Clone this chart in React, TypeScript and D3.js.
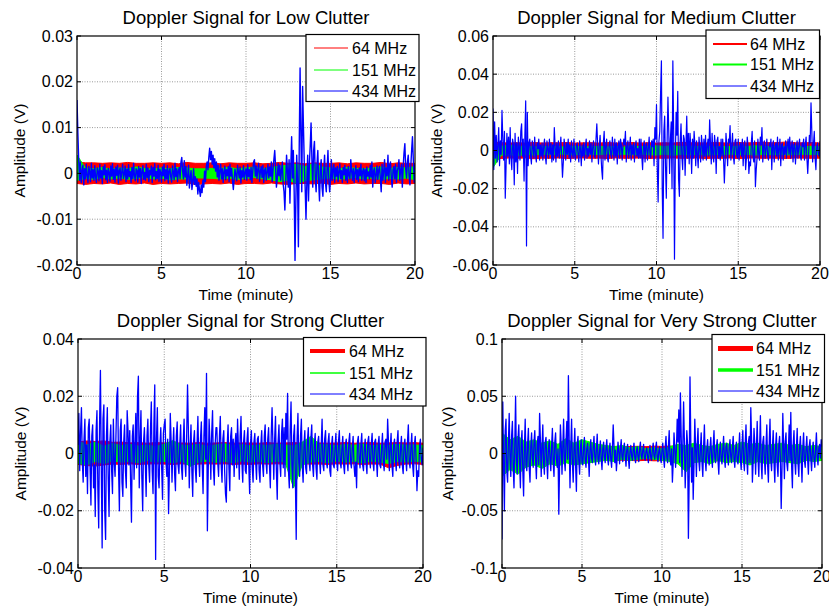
import React, { useRef, useEffect } from "react";
import * as d3 from "d3";

// all amplitudes are in mV, sampled evenly over 0..20 minutes
const FREQS = ["64 MHz", "151 MHz", "434 MHz"];
const X_TICKS = [0, 5, 10, 15, 20];

// ---- Low clutter ----
const low64Hi = [2.5, 2.3, 2.3, 2.2, 2.3, 2.2, 2.4, 2.2, 2.2, 2.3, 2.2, 2.3, 2.1, 2.4, 2.2, 2.2, 2.3, 2.1, 2.3, 2.2, 2.2, 2.3, 2.1, 2.2, 2.4, 2.2, 2.3, 2.1, 2.3, 2.2, 2.2, 2.3, 2.1, 2.3, 2.2, 2.2, 2.4, 2.1, 2.3, 2.2, 2.2];
const low64Lo = [-2.2, -2.4, -2.2, -2.3, -2.1, -2.4, -2.2, -2.3, -2.1, -2.4, -2.2, -2.3, -2.2, -2.1, -2.4, -2.3, -2.2, -2.3, -2.1, -2.4, -2.2, -2.2, -2.3, -2.1, -2.3, -2.4, -2.2, -2.2, -2.3, -2.1, -2.4, -2.2, -2.3, -2.1, -2.3, -2.2, -2.2, -2.4, -2.1, -2.3, -2.2];
const low151Hi = [4.0, 1.2, 1.0, 1.3, 0.9, 1.2, 1.0, 1.4, 1.1, 0.9, 1.2, 1.0, 1.3, 1.2, 1.0, 1.0, 1.1, 1.1, 1.3, 1.0, 1.2, 1.4, 1.0, 1.3, 1.6, 1.8, 2.0, 1.5, 2.2, 1.4, 1.2, 1.0, 1.3, 1.1, 1.0, 1.2, 1.4, 1.1, 1.3, 1.2, 1.5];
const low151Lo = [-1.5, -1.1, -1.3, -0.9, -1.2, -1.0, -1.3, -1.1, -0.9, -1.2, -1.0, -1.4, -1.2, -1.2, -1.0, -1.0, -1.1, -1.2, -1.0, -1.3, -1.1, -0.9, -1.2, -1.4, -1.8, -1.5, -2.2, -1.6, -1.4, -1.2, -1.0, -1.3, -1.1, -0.9, -1.2, -1.0, -1.3, -1.1, -1.2, -1.0, -1.4];
const low434 = [
  16,
  9, 3, -1.5, 2.5, -2, 0.5, 1.8, -2.5, 1, -1.2, 2, -0.5, -2, 1.5, 0.3, -1.8, 2.2, -1, 0.8, -1.5,
  1.7, -0.8, -2, 1.2, 0.4, -1.6, 2, -1, 0.6, -2.2, 1.5, -0.3, 1.9, -1.4, 0.7, -2, 1.1, 0.2, -1.7, 1.6,
  -0.6, 2.1, -1.3, 0.9, -1.9, 1.4, -0.4, 1.8, -2.1, 0.6, 1.2, -1.5, 0.3, 2, -1.1, -0.2, 1.6, -1.8, 0.9, -1.2,
  1.9, -0.7, 0.4, -2, 1.3, -1.1, 2.2, -0.5, -1.6, 1, 0.6, -1.9, 1.5, -0.8, 1.1, -2.2, 0.5, 1.7, -1.3, 0.2,
  -1.5, 2, -0.9, 1.2, -1.8, 0.7, -0.3, 1.6, -2, 1.3, -0.6, 2.1, -1.4, 0.4, -1.1, 1.8, -1.7, 0.9, 0.2, -1.9,
  1.4, -0.5, 2, -1.6, 0.8, -1.2, 1.7, -2.1, 0.5, 1.1, -0.8, -1.9, 1.6, 0.3, -1.4, 2.2, -0.7, 1, -1.8, 0.6,
  1.3, -1.1, 2.4, 3.5, 0.5, -1.2, 2.8, -0.8, 1.5, -2.6, -0.5, 1.8, -3.2, -1, 0.6, -3.5, -1.8, 1, -2.4, -0.7,
  -2.8, -1.2, -4.5, -2, -3.6, -5, -2.5, -4.2, -1.5, -3, 0.5, -1.8, 1.5, 2.5, 0.8, 3.5, 5.5, 3, 4.8, 2,
  4, 1.2, 3.2, 0.5, 2.5, -0.8, 1.8, -1.5, 0.6, 2, -1.2, 1, -2, 0.4, 1.6, -1.4, 0.8, -0.5, 1.5, -1.8,
  2, -0.6, 1.1, -1.5, -3.5, -1.2, 0.9, -0.4, -1.6, 1.8, 0.3, -1, 1.4, -2.1, 0.6, -0.8, 1.7, -1.3, 0.2, 1,
  -1.5, 1.9, -0.7, 0.8, -1.4, 1.3, -2, 0.5, 2.5, 3, -0.6, 1.6, -1.1, 0.9, 2.2, -1.7, 0.4, 1.5, -0.9, 1.8,
  -2, 0.7, 1.2, -1.5, 0.3, 2, -1, 1.4, -0.6, 2.5, -1.8, 0.8, 3, 5, 1.5, -3, -1.2, 2.2, -0.5, 1.8,
  -1.5, 0.6, 2.5, -2.4, -4, -8, -2, 4, 0.5, -3, 3, -6.5, 1, 8, -1, 5, -4, -19, -6, 4,
  -2, -16, 6, 23, 8, -4, 19, 10, 2, -3, -10, -2, 4, -6, 2, 6, 11, 3, -3, 5,
  7, -1, -4, 2, 5, -2, -6, 1, 3, -3, -5, 0.5, 4, -2, -4, 1, 5, -1.5, -4, -1.5,
  3, -1.5, 0.8, 2, -2, 1.2, -0.6, 1.5, -1.8, 0.4, 2.1, -1.1, 0.6, -2, 1.3, -0.3, 1.8, -1.5, 0.9, -2,
  1.5, -0.4, -1.2, 3, 0.6, -1.5, 1, -2, 0.3, 1.7, -1.3, 0.8, -1.8, 1.2, -0.5, 2, -1.5, 0.4, 1.1, -1.6,
  0.9, -2, 1.4, -0.6, 0.3, -1.2, 1.8, -0.8, 2.5, -3, 0.5, 1.2, -2, -0.4, 1.6, -1.3, 0.7, 1.5, -1.1, -4,
  2, -1.5, 0.6, 3, -2, 1.2, -0.5, 4, -1.5, 1.8, 2.5, -1, -3, 0.8, 1.5, -1.2, 2, -2, 0.5, 1.3,
  3, -1.5, 0.8, 2, -3, 1.5, 4.5, 6.5, 1, -1, 2.5, 4, -0.5, -2.5, 1.5, 5, 8, 3, -2, 2,
];

// ---- Medium clutter ----
const med64Hi = [4.4, 4.1, 3.9, 4.1, 3.9, 4.2, 3.9, 4.1, 4.0, 4.2, 3.9, 4.0, 4.1, 3.9, 4.2, 3.9, 4.0, 4.2, 3.9, 4.1, 3.9, 4.1, 3.9, 4.3, 4.0, 4.1, 3.9, 4.2, 4.0, 3.9, 4.2, 4.0, 4.1, 4.4, 4.0, 4.2, 4.5, 4.1, 4.0, 4.2, 3.9];
const med64Lo = [-4.0, -4.2, -3.9, -4.1, -3.9, -4.3, -4.0, -4.1, -3.9, -4.2, -4.0, -3.9, -4.1, -4.0, -4.2, -3.9, -4.1, -4.0, -3.9, -4.2, -4.0, -4.1, -3.9, -4.1, -4.0, -3.9, -4.2, -4.0, -4.1, -3.9, -4.2, -4.0, -3.9, -4.1, -4.0, -4.1, -4.2, -3.9, -4.0, -4.1, -4.0];
const med151Hi = [3.0, 2.2, 2.8, 2.0, 2.4, 1.8, 2.2, 1.9, 2.1, 1.7, 2.3, 1.8, 2.0, 2.2, 1.9, 2.1, 1.8, 2.4, 2.0, 2.2, 2.5, 2.1, 2.6, 2.0, 2.3, 2.1, 2.4, 1.9, 2.2, 2.0, 2.3, 2.1, 2.5, 2.2, 2.0, 2.3, 2.1, 2.4, 2.0, 2.2, 1.9];
const med151Lo = [-9.0, -2.5, -2.2, -2.8, -2.0, -2.4, -1.9, -2.2, -1.8, -2.1, -2.3, -1.9, -2.0, -2.2, -1.8, -2.1, -2.0, -2.3, -1.9, -2.2, -2.4, -2.0, -2.5, -2.1, -2.3, -2.0, -2.4, -2.1, -2.2, -1.9, -2.3, -2.0, -2.4, -2.1, -2.2, -2.0, -2.3, -2.1, -2.0, -2.2, -2.0];
const med434 = [
  22,
  -10, 15, -4, 8, -6, 3, 12, -8, 5, -2, 21, 6, -5, 10, -25, -8, 9, -3, 7, -7,
  12, -4, -10, 6, 3, -18, 9, -6, 4, -12, 7, 2, -5, 10, 14, -3, 6, -16, 8, 26,
  -50, 20, -8, 4, 6, -3, -7, 5, 2, -4, 7, -2, -6, 4, 1, 6, -5, 3, -3, 4,
  -5, 2, 6, -3, -7, 5, 1, -4, 6, -2, 4, -6, 3, -5, 12, 2, -6, 4, -3, 5,
  -4, 1, 7, -3, -14, -6, 6, 2, -5, 4, -2, 6, -4, 3, -6, 5, -1, -4, 6, -3,
  -5, 3, 4, -2, -6, 5, 1, -8, 3, -3, 4, -5, 2, 6, -4, 1, -3, 5, -2, 4,
  -6, 2, 5, -3, -4, 6, 14, 3, -7, 2, 8, -2, -10, -15, 4, 10, -5, 2, 6, -4,
  -6, 3, 5, -2, -4, 7, 1, -5, 6, -3, 4, -7, 2, 5, -4, 6, 3, -5, 2, 6,
  3, 10, -6, 2, 5, -4, 1, 7, -5, 3, -2, 4, -6, 2, 5, -3, 1, -4, 6, -4,
  6, -3, -10, 2, 5, -6, 3, 4, -5, 1, 7, -2, -4, 5, 2, 6, -8, 12, 6, 24,
  -10, -27, 5, 10, 30, 47, -20, -46, 10, 18, -8, -25, 5, 28, 10, -12, 6, 15, -20, 47,
  10, -57, -5, 20, 8, 31, -15, -24, 5, 14, -3, -10, 8, 6, -13, 3, 18, -4, 9, -7,
  9, 2, -12, 6, -4, 10, 3, -8, 5, -2, -9, 7, 1, -6, 8, 3, -5, 6, -3, 8,
  -5, 2, 6, -3, 16, 4, -7, 9, -2, -6, 8, 3, -12, 5, 7, -4, 2, -5, 6, -3,
  6, -4, -17, -5, 9, 2, -8, 6, 4, 13, -5, 2, 9, -3, -7, 5, 6, -2, -4, 6,
  -5, 2, 4, -3, 6, -8, 3, 5, -10, -4, 7, 2, -12, -6, -8, 4, 10, -3, -6, 5,
  -19, -10, -4, 6, -2, -5, 7, 3, 12, -6, 2, 5, -4, 1, 6, -3, -5, 4, 2, 6,
  -10, 3, 5, -6, 2, 4, -3, 7, -5, 1, 6, -8, 3, 4, -5, 2, -2, 5, -4, 3,
  6, -2, 7, -4, 2, 5, -6, 3, 4, -7, 1, 5, -4, 2, 6, -3, -5, 4, 2, 6,
  -5, 3, 7, -4, -12, -3, 8, 4, 25, 10, -6, 3, 10, -4, -10, 2, 4, -2, -3, 5,
];

// ---- Strong clutter ----
const str64Hi = [4.0, 4.4, 4.2, 4.4, 3.9, 4.0, 3.7, 3.8, 3.6, 3.8, 3.7, 3.6, 3.7, 3.6, 3.8, 3.6, 3.7, 3.8, 3.6, 3.7, 3.7, 3.6, 3.8, 3.6, 3.7, 3.8, 3.6, 3.8, 3.7, 3.6, 3.7, 3.8, 3.6, 3.7, 3.8, 3.6, 3.7, 3.8, 3.7, 3.8, 3.6];
const str64Lo = [-3.8, -4.2, -4.4, -4.0, -3.7, -3.8, -3.6, -3.8, -3.7, -3.6, -3.7, -3.8, -3.6, -3.8, -3.7, -3.6, -3.7, -3.6, -3.8, -3.7, -3.8, -3.6, -3.7, -3.6, -3.7, -3.8, -3.6, -3.7, -3.7, -3.8, -3.6, -3.7, -3.6, -3.8, -3.7, -3.7, -5.0, -4.2, -3.7, -3.6, -3.8];
const str151Hi = [4.5, 3.0, 4.0, 2.5, 3.5, 2.8, 3.2, 2.6, 3.0, 2.4, 3.3, 4.5, 3.0, 2.8, 3.2, 2.6, 3.0, 3.4, 2.8, 3.1, 2.7, 3.0, 2.8, 3.3, 3.0, 2.6, 4.0, 6.0, 3.2, 3.0, 2.8, 3.1, 2.9, 3.3, 2.7, 3.0, 2.8, 3.2, 2.9, 3.0, 2.8];
const str151Lo = [-3.5, -4.0, -2.8, -3.5, -2.6, -3.0, -2.8, -3.2, -2.5, -3.0, -2.8, -3.3, -2.6, -4.5, -3.0, -2.7, -3.1, -2.8, -3.2, -2.6, -3.0, -2.8, -3.2, -2.7, -3.0, -12.0, -4.0, -3.0, -2.8, -3.2, -2.6, -3.0, -2.8, -3.3, -2.7, -3.0, -3.5, -2.8, -3.0, -2.7, -3.0];
const str434 = [
  3,
  14, -6, 8, 16, -3, -10, 5, 12, -8, 3, -14, 9, 12, -5, -18, 6, 10, -12, -4, -22,
  8, 15, -12, -26, 10, 29, -5, -33, 12, 17, -20, -30, 6, 16, -8, -22, 4, 10, -6, -14,
  12, -3, -8, 6, 20, 23, -5, -20, 8, 12, -10, -15, 4, 10, -6, -12, 15, 8, -4, 8,
  -10, -24, 6, 10, -9, 3, 14, -5, 20, 27, -12, 5, 15, -8, -20, 4, 9, -3, -15, 6,
  12, -4, -10, 8, 18, -6, -14, 10, 24, -37, 5, 16, -8, -12, 3, 9, -5, -16, 7, 10,
  12, -3, -8, 5, -21, -6, 14, 4, -10, 2, 9, -7, -13, 6, 11, -4, -7, 3, 10, -5,
  -9, 4, 12, -3, -8, 6, 24, 8, -12, 2, 10, -6, -15, 4, 8, -5, -10, 3, 13, -2,
  -8, 5, 11, -4, -14, 6, 16, -2, 28, -27, -6, 12, 4, -9, 7, 15, -5, -11, 3, 9,
  9, -3, -8, 6, 13, -4, -10, 5, 8, -6, -14, -17, 3, 10, -5, -13, 6, 9, -4, 5,
  -8, 3, 7, -5, 12, 2, -9, 6, 13, -3, -10, 4, 8, -6, -7, 5, 9, -4, -14, 3,
  8, -5, -10, 4, 7, -3, -9, 5, 6, -6, -10, 3, 8, -4, -8, 6, 10, -3, -7, 5,
  9, -4, -12, 6, 16, 3, -9, 5, 13, -6, -16, 4, 10, -3, -8, 7, 12, -5, 9, -8,
  14, 5, 21, -6, -12, 8, 18, -4, -12, 6, 10, -8, -30, 5, 14, -3, -8, 6, 12, -4,
  -10, 3, 8, -5, -7, 4, 9, -3, -6, 5, 10, -4, -8, 3, 7, -5, -9, 4, 6, -2,
  -7, 3, 12, -4, -6, 5, 8, -3, -5, 4, 7, -6, -8, 3, 6, -4, -5, 2, 7, -3,
  -6, 4, 8, -3, -5, 2, 6, -4, -7, 3, 5, -2, -6, 4, 7, -3, -5, 2, 6, -4,
  -8, -3, -12, 4, 6, -2, -5, 3, 7, -4, -6, 2, 5, -3, -7, 4, 6, -2, -5, 3,
  7, -3, -6, 4, 5, -2, -8, 3, 6, -4, -5, 2, 7, -3, -6, 4, 5, -2, 12, 4,
  -6, 2, 7, -4, -8, 3, 5, -2, -6, 4, 8, -3, -5, 2, 6, -4, -7, 3, 5, -2,
  -6, 4, 10, -3, -5, 2, 7, -4, -8, 3, 6, -2, -13, -6, -8, 3, 5, -2, -4, 2,
];

// ---- Very strong clutter ----
const vst64Hi = [6, 5.7, 6.1, 5.9, 6, 5.7, 6.2, 5.8, 6, 5.8, 6.1, 5.9, 6, 5.7, 6.2, 5.9, 6.1, 6.3, 6, 6.4, 6.2, 6.5, 5.9, 6.2, 6.3, 6, 5.8, 6.1, 6.4, 6, 6.3, 6.1, 5.8, 6.2, 6.4, 6, 5.9, 6.2, 6.1, 5.8, 6];
const vst64Lo = [-6, -5.8, -6.1, -5.9, -6.1, -5.7, -6.2, -5.8, -6, -5.9, -6.1, -5.8, -6, -5.9, -6.2, -5.8, -6.1, -6.3, -6, -6.4, -6.2, -5.9, -6.1, -6.3, -6, -5.8, -6.2, -6.4, -6, -6.2, -5.9, -6.1, -6.3, -6, -5.9, -6.2, -6.4, -6.1, -5.9, -6.2, -6];
const vst151Hi = [18, 12, 15, 10, 12, 9, 11, 8, 13, 9, 12, 10, 8, 7, 6, 7, 5, 6, 4, 5, 4, 6, 8, 7, 9, 7, 6, 8, 9, 7, 10, 8, 9, 7, 8, 9, 7, 8, 6, 7, 6];
const vst151Lo = [-20, -14, -18, -12, -10, -13, -9, -11, -8, -10, -9, -8, -7, -6, -7, -5, -6, -5, -4, -5, -6, -7, -9, -16, -8, -7, -9, -6, -8, -7, -8, -10, -7, -9, -8, -7, -8, -9, -6, -7, -6];
const vst434 = [
  -75,
  45, -10, -50, 20, 30, -15, -25, 10, 35, -5, -20, 15, 28, -12, -30, 8, 50, -6, -18, 12,
  25, -8, -30, 10, 20, -15, -37, 5, 30, -10, -15, 8, 22, -12, -25, 6, 18, -4, -12, 10,
  20, -6, -22, 8, 15, -10, 35, 12, -20, 5, 25, -8, -18, 10, 14, -6, -22, 4, 12, -5,
  -15, 6, 22, -8, -20, 10, 18, -5, -12, 4, -53, -10, 25, 8, -18, 5, 30, -6, -15, 10,
  28, -5, 68, 10, -30, 6, 30, -8, -25, 4, 22, -10, -33, 8, 15, -6, -18, 4, 12, -8,
  -10, 5, 14, -6, -12, 4, 9, -3, -20, 5, 12, -4, -8, 6, 15, -3, -10, 4, 17, -5,
  -9, 3, 11, -5, -14, 4, 10, -3, -8, 5, 12, -4, -10, 3, 9, -5, -12, 4, 25, 6,
  -8, 3, -15, -4, 10, 2, -9, 4, 12, -3, -7, 5, 9, -2, -11, 3, 8, -4, -13, 2,
  7, -2, -6, 3, 9, -4, -8, 2, 6, -3, -7, 4, 10, -2, -5, 3, 8, -4, -6, 2,
  5, -3, -8, 2, 7, -4, -6, 3, 9, -2, -5, 4, 10, -3, -7, 2, 6, -4, -8, 3,
  9, -4, -12, 5, 15, -3, -8, 6, 20, -5, -10, 4, -25, -8, 18, 5, -12, 3, 30, 10,
  38, -8, 53, 15, -20, 5, 45, 10, -30, -5, 20, 8, -74, -20, 67, 10, -25, 5, -40, -10,
  30, 5, -20, 8, 22, -6, -15, 4, 18, -8, -20, 6, 25, -5, -15, 3, 12, -4, -10, 5,
  14, -3, -12, 6, 20, -4, -8, 5, 12, -6, -18, 3, 10, -5, -9, 4, 15, -3, -12, 6,
  9, -4, -10, 5, 12, -3, -8, 6, 15, -5, -12, 4, 10, -6, -9, 3, 18, -5, -14, 6,
  20, -6, -15, 8, 25, -5, -18, 10, 15, -8, 40, 12, -25, -6, 22, 8, -18, 5, 28, -4,
  -20, 6, 33, -8, -22, 10, 15, -5, -18, 6, 25, -10, -25, 8, 30, -6, -15, 5, 20, -8,
  -25, 6, 18, -10, -20, 8, 15, -5, -48, -12, 35, 6, -22, 10, 18, -8, -15, 4, 25, -6,
  36, -10, -30, 8, 20, -6, -18, 5, 22, -8, -20, 6, 15, -4, -25, 5, 18, -6, -12, 4,
  15, -5, -18, 6, 12, -4, -15, 3, 10, -5, -12, 4, 18, -3, -10, 5, 8, -4, 12, 6,
];

// layout for each subplot
const PANELS = [
  {
    title: "Doppler Signal for Low Clutter",
    left: 77, top: 36, right: 415, bottom: 265,
    yDomain: [-20, 30], yTicks: [-20, -10, 0, 10, 20, 30], ylabelX: 19,
    red: [low64Hi, low64Lo], green: [low151Hi, low151Lo], blue: low434, blueW: 1.4,
    legend: { x0: 306, y0: 34.5, x1: 419, y1: 101.5, lx0: 314, lx1: 348, tx: 352, rows: [48, 70, 91], widths: [1, 1, 1] },
  },
  {
    title: "Doppler Signal for Medium Clutter",
    left: 493, top: 36, right: 820, bottom: 265,
    yDomain: [-60, 60], yTicks: [-60, -40, -20, 0, 20, 40, 60], ylabelX: 436,
    red: [med64Hi, med64Lo], green: [med151Hi, med151Lo], blue: med434, blueW: 1.2,
    legend: { x0: 706, y0: 30, x1: 819.5, y1: 98.5, lx0: 713, lx1: 747, tx: 750, rows: [44, 64.5, 86], widths: [2, 2, 1] },
  },
  {
    title: "Doppler Signal for Strong Clutter",
    left: 78, top: 339, right: 423, bottom: 568,
    yDomain: [-40, 40], yTicks: [-40, -20, 0, 20, 40], ylabelX: 20,
    red: [str64Hi, str64Lo], green: [str151Hi, str151Lo], blue: str434, blueW: 1.3,
    legend: { x0: 303.5, y0: 337.5, x1: 426, y1: 406, lx0: 310, lx1: 345, tx: 349, rows: [351, 373, 394], widths: [4, 1.5, 1] },
  },
  {
    title: "Doppler Signal for Very Strong Clutter",
    left: 502, top: 339, right: 822, bottom: 568,
    yDomain: [-100, 100], yTicks: [-100, -50, 0, 50, 100], ylabelX: 447,
    red: [vst64Hi, vst64Lo], green: [vst151Hi, vst151Lo], blue: vst434, blueW: 1.3,
    legend: { x0: 712, y0: 334.5, x1: 824.5, y1: 402.5, lx0: 718, lx1: 753, tx: 756, rows: [348.5, 370, 391], widths: [5, 3.5, 1] },
  },
];

const COLORS = ["#ff0000", "#00ff00", "#0000ff"];
const FONT = "'Liberation Sans', Arial, Helvetica, sans-serif";

const tAt = (i: number, n: number) => (i * 20) / (n - 1);
const fmtV = (mv: number) => (mv === 0 ? "0" : String(+(mv / 1000).toFixed(3)));

export default function App() {
  const ref = useRef<SVGSVGElement>(null);

  useEffect(() => {
    const svg = d3.select(ref.current);
    svg.selectAll("*").remove();

    svg.append("rect").attr("width", 829).attr("height", 612).attr("fill", "#fff");

    PANELS.forEach((p, k) => {
      const x = d3.scaleLinear().domain([0, 20]).range([p.left, p.right]);
      const y = d3.scaleLinear().domain(p.yDomain).range([p.bottom, p.top]);
      const g = svg.append("g");

      const clipId = `clip-${k}`;
      g.append("clipPath")
        .attr("id", clipId)
        .append("rect")
        .attr("x", p.left)
        .attr("y", p.top)
        .attr("width", p.right - p.left)
        .attr("height", p.bottom - p.top);

      // dotted grid
      const grid = g.append("g").attr("stroke", "#9a9a9a").attr("stroke-dasharray", "1,1.5");
      X_TICKS.slice(1, -1).forEach((t) => {
        grid.append("line").attr("x1", x(t)).attr("x2", x(t)).attr("y1", p.top).attr("y2", p.bottom);
      });
      p.yTicks.slice(1, -1).forEach((v) => {
        grid.append("line").attr("x1", p.left).attr("x2", p.right).attr("y1", y(v)).attr("y2", y(v));
      });

      const plot = g.append("g").attr("clip-path", `url(#${clipId})`);

      // 64 and 151 MHz show as dense noise bands: draw the envelope
      const band = d3
        .area<{ t: number; hi: number; lo: number }>()
        .x((d) => x(d.t))
        .y0((d) => y(d.lo))
        .y1((d) => y(d.hi));
      [p.red, p.green].forEach(([hi, lo], j) => {
        const rows = hi.map((h, i) => ({ t: tAt(i, hi.length), hi: h, lo: lo[i] }));
        plot
          .append("path")
          .attr("d", band(rows))
          .attr("fill", COLORS[j])
          .attr("stroke", COLORS[j])
          .attr("stroke-width", 1);
      });

      const line = d3
        .line<number>()
        .x((_, i) => x(tAt(i, p.blue.length)))
        .y((d) => y(d));
      plot
        .append("path")
        .attr("d", line(p.blue))
        .attr("fill", "none")
        .attr("stroke", COLORS[2])
        .attr("stroke-width", p.blueW)
        .attr("stroke-linejoin", "round");

      // frame and inward ticks
      g.append("rect")
        .attr("x", p.left)
        .attr("y", p.top)
        .attr("width", p.right - p.left)
        .attr("height", p.bottom - p.top)
        .attr("fill", "none")
        .attr("stroke", "#000")
        .attr("stroke-width", 1.2);
      const ticks = g.append("g").attr("stroke", "#000");
      X_TICKS.forEach((t) => {
        ticks.append("line").attr("x1", x(t)).attr("x2", x(t)).attr("y1", p.bottom).attr("y2", p.bottom - 4);
        ticks.append("line").attr("x1", x(t)).attr("x2", x(t)).attr("y1", p.top).attr("y2", p.top + 4);
      });
      p.yTicks.forEach((v) => {
        ticks.append("line").attr("x1", p.left).attr("x2", p.left + 4).attr("y1", y(v)).attr("y2", y(v));
        ticks.append("line").attr("x1", p.right).attr("x2", p.right - 4).attr("y1", y(v)).attr("y2", y(v));
      });

      const txt = g.append("g").attr("font-family", FONT).attr("fill", "#000");
      X_TICKS.forEach((t) => {
        txt.append("text")
          .attr("x", x(t))
          .attr("y", p.bottom + 13.5)
          .attr("text-anchor", "middle")
          .attr("font-size", 16)
          .text(t);
      });
      p.yTicks.forEach((v) => {
        txt.append("text")
          .attr("x", p.left - 4)
          .attr("y", y(v))
          .attr("text-anchor", "end")
          .attr("dominant-baseline", "central")
          .attr("font-size", 16)
          .text(fmtV(v));
      });
      txt.append("text")
        .attr("x", (p.left + p.right) / 2)
        .attr("y", p.bottom + 35)
        .attr("text-anchor", "middle")
        .attr("font-size", 15.5)
        .text("Time (minute)");
      const cy = (p.top + p.bottom) / 2;
      txt.append("text")
        .attr("x", p.ylabelX)
        .attr("y", cy)
        .attr("text-anchor", "middle")
        .attr("dominant-baseline", "central")
        .attr("transform", `rotate(-90, ${p.ylabelX}, ${cy})`)
        .attr("font-size", 15.5)
        .text("Amplitude (V)");
      txt.append("text")
        .attr("x", (p.left + p.right) / 2)
        .attr("y", p.top - 12.5)
        .attr("text-anchor", "middle")
        .attr("font-size", 18.5)
        .text(p.title);

      // legend
      const L = p.legend;
      const leg = g.append("g");
      leg.append("rect")
        .attr("x", L.x0)
        .attr("y", L.y0)
        .attr("width", L.x1 - L.x0)
        .attr("height", L.y1 - L.y0)
        .attr("fill", "#fff")
        .attr("stroke", "#000")
        .attr("stroke-width", 1.2);
      FREQS.forEach((f, j) => {
        leg.append("line")
          .attr("x1", L.lx0)
          .attr("x2", L.lx1)
          .attr("y1", L.rows[j])
          .attr("y2", L.rows[j])
          .attr("stroke", COLORS[j])
          .attr("stroke-width", L.widths[j]);
        leg.append("text")
          .attr("x", L.tx)
          .attr("y", L.rows[j])
          .attr("dominant-baseline", "central")
          .attr("font-family", FONT)
          .attr("font-size", 16)
          .text(f);
      });
    });
  }, []);

  return (
    <svg
      ref={ref}
      width={829}
      height={612}
      style={{ position: "absolute", left: 0, top: 0, display: "block" }}
    />
  );
}
